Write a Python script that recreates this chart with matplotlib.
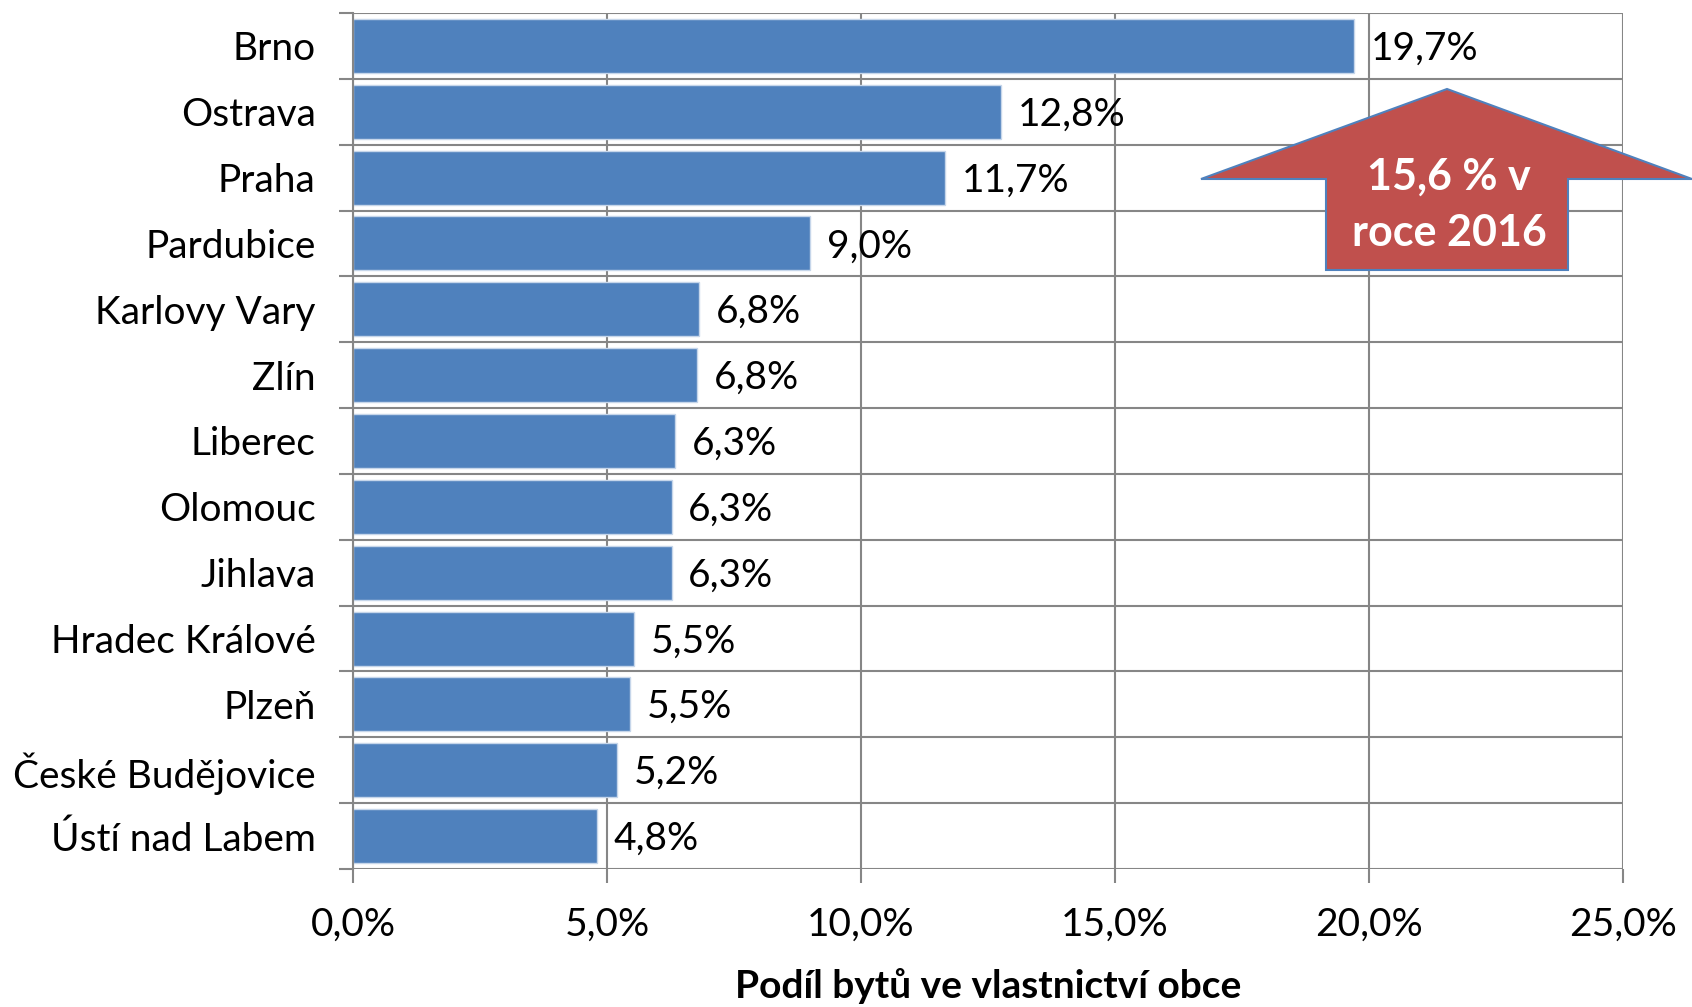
import matplotlib
matplotlib.use("Agg")
import matplotlib.pyplot as plt
from matplotlib.patches import Polygon
from matplotlib.ticker import FixedLocator, FuncFormatter

cities = ["Brno", "Ostrava", "Praha", "Pardubice", "Karlovy Vary", "Zlín", "Liberec",
          "Olomouc", "Jihlava", "Hradec Králové", "Plzeň", "České Budějovice", "Ústí nad Labem"]
shares = [19.7, 12.75, 11.65, 9.0, 6.82, 6.78, 6.34, 6.27, 6.27, 5.54, 5.46, 5.2, 4.8]
value_labels = ["19,7%", "12,8%", "11,7%", "9,0%", "6,8%", "6,8%", "6,3%", "6,3%", "6,3%",
                "5,5%", "5,5%", "5,2%", "4,8%"]
x_ticks = [0, 5, 10, 15, 20, 25]
x_title = "Podíl bytů ve vlastnictví obce"
callout = "15,6 % v\nroce 2016"

FONT = ["Lato", "DejaVu Sans"]
plt.rcParams["font.family"] = FONT
FS = 28

W, H = 1692, 1007
fig = plt.figure(figsize=(W / 100, H / 100), dpi=100)
ax = fig.add_axes([353 / W, 1 - 869 / H, (1623 - 353) / W, (869 - 13) / H])

grid_c = "#868686"
ypos = list(range(len(cities)))
ax.barh(ypos, shares, height=0.82, color="#4F81BD", edgecolor="#C6D6EA",
        linewidth=1.0, zorder=3)

for y, v, lab in zip(ypos, shares, value_labels):
    ax.annotate(lab, (v, y), xytext=(12, -2), textcoords="offset points",
                ha="left", va="center", fontsize=FS, color="black", zorder=4)

ax.set_xlim(0, 25)
ax.set_ylim(len(cities) - 0.5, -0.5)
ax.xaxis.set_major_locator(FixedLocator(x_ticks))
ax.xaxis.set_major_formatter(FuncFormatter(lambda v, p: f"{v:.1f}".replace(".", ",") + "%"))
ax.set_yticks(ypos)
ax.set_yticklabels(cities)
ax.yaxis.set_minor_locator(FixedLocator([i - 0.5 for i in range(len(cities) + 1)]))

ax.tick_params(axis="y", which="major", length=0, pad=27, labelsize=FS)
ax.tick_params(axis="y", which="minor", length=10, width=1.5, color=grid_c, direction="out")
ax.tick_params(axis="x", which="major", length=10, width=1.5, color=grid_c, direction="out",
               pad=17, labelsize=FS)

ax.grid(axis="x", which="major", color=grid_c, linewidth=1.5, zorder=1)
ax.grid(axis="y", which="minor", color=grid_c, linewidth=1.5, zorder=1)
ax.set_axisbelow(True)
for s in ["top", "right", "bottom"]:
    ax.spines[s].set_visible(False)
ax.spines["left"].set_color(grid_c)
ax.spines["left"].set_linewidth(1.5)
ax.spines["left"].set_zorder(5)

ax.set_xlabel(x_title, fontsize=FS, fontweight="bold", labelpad=18)

# callout arrow (figure pixel positions)
def fp(x, y):
    return (x / W, 1 - y / H)

arrow_pts = [fp(1201, 179), fp(1447, 89), fp(1692, 179), fp(1568, 179),
             fp(1568, 270), fp(1326, 270), fp(1326, 179)]
fig.patches.append(Polygon(arrow_pts, closed=True, transform=fig.transFigure,
                           facecolor="#C0504D", edgecolor="#4F81BD", linewidth=1.5,
                           zorder=10))
fig.text(1449 / W, 1 - 205 / H, callout, ha="center", va="center", fontsize=31,
         fontweight="bold", color="white", linespacing=1.5, zorder=11)

fig.savefig("out.png", dpi=100)
